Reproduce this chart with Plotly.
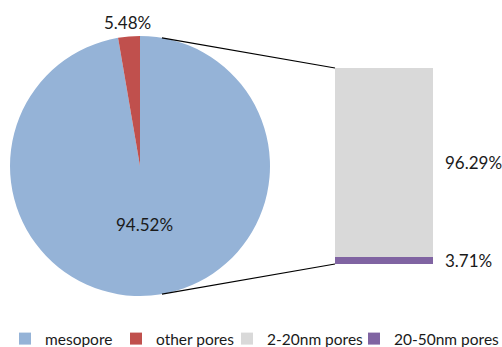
import math
import plotly.graph_objects as go

# ---- data ----
pie_names = ["mesopore", "other pores"]
pie_values = [97.3, 2.7]            # slice sizes as drawn
pie_labels = ["94.52%", "5.48%"]     # printed labels
bar_names = ["2-20nm pores", "20-50nm pores"]
bar_values = [96.29, 3.71]
bar_labels = ["96.29%", "3.71%"]

pie_colors = ["#95B3D7", "#C0504D"]
bar_colors = ["#D9D9D9", "#8064A2"]

W, H = 502, 347
FONT = "Lato"
TXT = "#1a1a1a"

# pie geometry (pixels)
cx, cy, R = 140, 166, 130
pie_dom_x = [(cx - R) / W, (cx + R) / W]
pie_dom_y = [1 - (cy + R) / H, 1 - (cy - R) / H]

# bar geometry (pixels)
bar_left, bar_right, bar_top, bar_bottom = 335, 433, 68, 264

fig = go.Figure()

fig.add_trace(go.Pie(
    labels=pie_names, values=pie_values, sort=False, direction="clockwise",
    rotation=0, marker=dict(colors=pie_colors, line=dict(width=0)),
    textinfo="none", hoverinfo="label+percent",
    domain=dict(x=pie_dom_x, y=pie_dom_y), legendrank=1,
    legendwidth=66,
))

# stacked bar: bottom segment first
bar_specs = [(bar_names[1], bar_values[1], bar_colors[1], 3, None),
             (bar_names[0], bar_values[0], bar_colors[0], 2, 82)]
for name, val, col, rank, lw in bar_specs:
    kw = dict(legendwidth=lw) if lw else {}
    fig.add_trace(go.Bar(
        x=["other"], y=[val], name=name, marker=dict(color=col, line=dict(width=0)),
        width=1, xaxis="x", yaxis="y", legendrank=rank, **kw,
    ))

total = sum(bar_values)

annotations = []
# bar labels at segment mid-heights
cum = 0
seg = []
for val, lab in [(bar_values[1], bar_labels[1]), (bar_values[0], bar_labels[0])]:
    seg.append((cum + val / 2, lab))
    cum += val
for ymid, lab in seg:
    annotations.append(dict(
        x=(bar_right + 10) / W, xref="paper", xanchor="left",
        y=ymid, yref="y", yanchor="middle",
        text=lab, showarrow=False, font=dict(family=FONT, size=17, color=TXT)))

# pie labels
tot_pie = sum(pie_values)
ang_other = pie_values[1] / tot_pie * 360
mid_meso = (pie_values[0] / tot_pie * 360) / 2
mid_other = pie_values[0] / tot_pie * 360 + ang_other / 2
for mid, r, lab in [(mid_meso, 0.45 * R, pie_labels[0]), (mid_other, R + 14, pie_labels[1])]:
    a = math.radians(mid)
    px = cx + r * math.sin(a)
    py = cy - r * math.cos(a)
    annotations.append(dict(
        x=px / W, xref="paper", xanchor="center",
        y=1 - py / H, yref="paper", yanchor="middle",
        text=lab, showarrow=False, font=dict(family=FONT, size=17, color=TXT)))

# connector lines from pie edge to bar corners
a = math.radians(ang_other)
shapes = []
for sy, ty in [(-1, bar_top), (1, bar_bottom)]:
    px = cx + R * math.sin(a)
    py = cy + sy * R * math.cos(a)
    shapes.append(dict(type="line", xref="paper", yref="paper",
                       x0=px / W, y0=1 - py / H, x1=bar_left / W, y1=1 - ty / H,
                       line=dict(color="black", width=1.2)))

fig.update_layout(
    width=W, height=H, margin=dict(l=0, r=0, t=0, b=0, autoexpand=False),
    paper_bgcolor="white", plot_bgcolor="white",
    barmode="stack", bargap=0,
    xaxis=dict(domain=[bar_left / W, bar_right / W], range=[-0.5, 0.5],
               visible=False, fixedrange=True),
    yaxis=dict(domain=[1 - bar_bottom / H, 1 - bar_top / H], range=[0, total],
               visible=False, fixedrange=True),
    showlegend=True,
    legend=dict(orientation="h", x=5 / W, xanchor="left",
                yref="paper", y=-0.026, yanchor="bottom",
                font=dict(family=FONT, size=15.5, color=TXT), itemwidth=30,
                traceorder="normal", bgcolor="rgba(0,0,0,0)"),
    annotations=annotations, shapes=shapes,
    font=dict(family=FONT),
)

fig.write_html("out.html")
